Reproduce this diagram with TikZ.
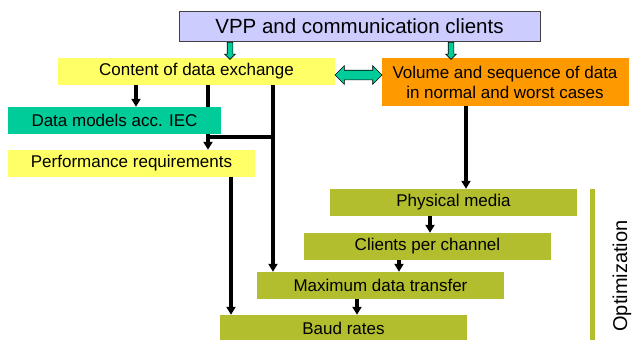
\documentclass[tikz,border=0pt]{standalone}
\usepackage{fontspec}
\setmainfont{Liberation Sans}
\usetikzlibrary{arrows.meta,shapes.arrows,backgrounds}
\definecolor{lavender}{HTML}{CCCCFF}
\definecolor{paleyellow}{HTML}{FFFF66}
\definecolor{seagreen}{HTML}{00CC99}
\definecolor{deeporange}{HTML}{FF9900}
\definecolor{mossgreen}{RGB}{178,190,46}
\begin{document}
\begin{tikzpicture}[x=1pt,y=-1pt,
	box/.style={rectangle, inner sep=0pt, minimum height=27pt, font=\fontsize{17}{20}\selectfont},
	stagebox/.style={box, fill=mossgreen, minimum width=247pt},
	blockarrow/.style={fill=seagreen, draw=black, line width=0.6pt}]
	\useasboundingbox (0,0) rectangle (633,340);
	\node[box, fill=lavender, draw=black!75, line width=0.8pt, minimum width=361pt, minimum height=30pt, font=\fontsize{20.5}{24}\selectfont] (vpp) at (359.5,26) {VPP and communication clients};
	\begin{scope}[every node/.append style={box}]
		\node[fill=paleyellow, minimum width=277pt] (content) at (196.5,71.5) {Content of data exchange};
		\node[fill=deeporange, minimum width=247pt, minimum height=48pt, align=center] (volume) at (505,82) {Volume and sequence of data\\in normal and worst cases};
		\node[fill=seagreen, minimum width=213pt] (models) at (114.5,120.5) {Data models acc. IEC};
		\node[fill=paleyellow, minimum width=247pt] (perf) at (131.5,163.5) {Performance requirements};
	\end{scope}
	\begin{scope}[every node/.append style={stagebox}]
		\node (media) at (453.5,202.5) {Physical media};
		\node (clients) at (427.5,246.5) {Clients per channel};
		\node (maxdata) at (380.5,285.5) {Maximum data transfer};
		\node[minimum height=26pt] (baud) at (343.5,328) {Baud rates};
	\end{scope}
	\node[blockarrow, single arrow, shape border rotate=270, minimum height=17pt, minimum width=10pt, inner sep=2.5pt, single arrow head extend=2.5pt] (downleft) at (230,49.5) {};
	\node[blockarrow, single arrow, shape border rotate=270, minimum height=17pt, minimum width=10pt, inner sep=2.5pt, single arrow head extend=2.5pt] (downright) at (451,49.5) {};
	\node[blockarrow, double arrow, minimum height=47pt, minimum width=18pt, inner sep=4.5pt, double arrow head extend=4.5pt] (exchange) at (358.5,75) {};
	\coordinate (fork) at (208,137);
	\coordinate (join) at (273,137);
	\begin{scope}[on background layer, every edge/.style={draw=black, line width=3.2pt, -{Triangle[width=9pt,length=8pt]}}]
		\path ([xshift=-60.5pt]content.south) edge ([xshift=21.5pt]models.north);
		\path ([xshift=11.5pt]content.south) edge ([xshift=76.5pt]perf.north);
		\path ([xshift=76.5pt]content.south) edge ([xshift=-107.5pt]maxdata.north);
		\path ([xshift=99.5pt]perf.south) edge ([xshift=-112.5pt]baud.north);
		\path ([xshift=-39pt]volume.south) edge ([xshift=12.5pt]media.north);
		\path ([xshift=-23.5pt]media.south) edge ([xshift=2.5pt]clients.north);
		\path ([xshift=-28.5pt]clients.south) edge ([xshift=18.5pt]maxdata.north);
		\path ([xshift=-23.5pt]maxdata.south) edge ([xshift=13.5pt]baud.north);
		\draw[line width=3.2pt] (fork) -- (join);
	\end{scope}
	\coordinate (opttop) at (592,189);
	\coordinate (optbottom) at (592,340);
	\draw[mossgreen, line width=5pt] (opttop) -- (optbottom);
	\node[rotate=90, font=\fontsize{20}{24}\selectfont] (optimization) at (622,276) {Optimization};
\end{tikzpicture}
\end{document}
